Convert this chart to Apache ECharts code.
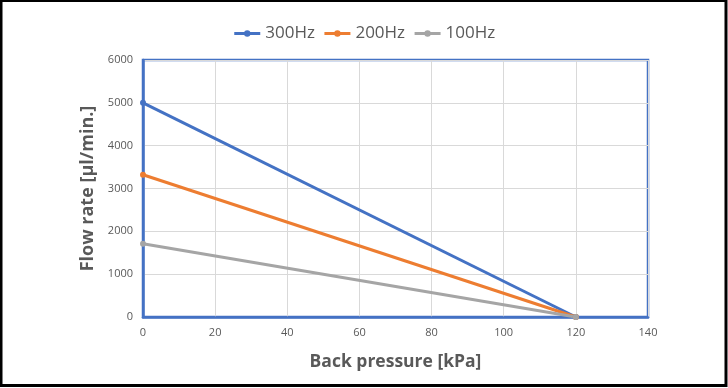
<!DOCTYPE html>
<html><head><meta charset="utf-8">
<script src="https://cdn.jsdelivr.net/npm/echarts@6/dist/echarts.min.js"></script>
<style>html,body{margin:0;padding:0;background:#fff}#c{width:728px;height:388px}</style>
</head><body><div id="c"></div>
<script>
const pressure = [0, 120];
const s300 = [5000, 0];
const s200 = [3320, 0];
const s100 = [1710, 0];
const seriesNames = ['300Hz', '200Hz', '100Hz'];
const colors = ['#4472C4', '#ED7D31', '#A5A5A5'];
const font = '"Open Sans", "Noto Sans", sans-serif';
const chart = echarts.init(document.getElementById('c'));
const mk = (name, vals, color) => ({
  name, type: 'line', data: pressure.map((p, i) => [p, vals[i]]),
  symbol: 'circle', symbolSize: 6, showSymbol: true,
  lineStyle: { width: 3, color }, itemStyle: { color }, z: 3
});
chart.setOption({
  animation: false,
  graphic: [{ type: 'rect', shape: { x: 1, y: 0.5, width: 725, height: 385 }, style: { fill: 'none', stroke: '#000', lineWidth: 3 }, z: 100 }],
  legend: { top: 20, left: 'center', itemWidth: 26, itemHeight: 8, itemGap: 8,
    lineStyle: { width: 3 },
    textStyle: { fontFamily: font, fontSize: 17, color: '#595959' }, data: seriesNames },
  grid: { left: 143, right: 80, top: 60, bottom: 71, show: true, borderColor: '#4472C4', borderWidth: 2.5 },
  xAxis: { type: 'value', min: 0, max: 140, interval: 20,
    name: 'Back pressure [kPa]', nameLocation: 'middle', nameGap: 36,
    nameTextStyle: { fontFamily: font, fontSize: 17.5, fontWeight: 'bold', color: '#595959' },
    axisLine: { show: true, lineStyle: { color: '#4472C4', width: 2.5 } }, axisTick: { show: false },
    axisLabel: { fontFamily: font, fontSize: 11, color: '#595959', margin: 10 },
    splitLine: { show: true, lineStyle: { color: '#D9D9D9', width: 1 } } },
  yAxis: { type: 'value', min: 0, max: 6000, interval: 1000,
    name: 'Flow rate [\u03bcl/min.]', nameLocation: 'middle', nameGap: 42,
    nameTextStyle: { fontFamily: font, fontSize: 18, fontWeight: 'bold', color: '#595959' },
    axisLine: { show: true, lineStyle: { color: '#4472C4', width: 2.5 } }, axisTick: { show: false },
    axisLabel: { fontFamily: font, fontSize: 11, color: '#595959', margin: 10, formatter: v => String(v) },
    splitLine: { show: true, lineStyle: { color: '#D9D9D9', width: 1 } } },
  series: [mk(seriesNames[0], s300, colors[0]), mk(seriesNames[1], s200, colors[1]), mk(seriesNames[2], s100, colors[2])]
});
</script></body></html>
